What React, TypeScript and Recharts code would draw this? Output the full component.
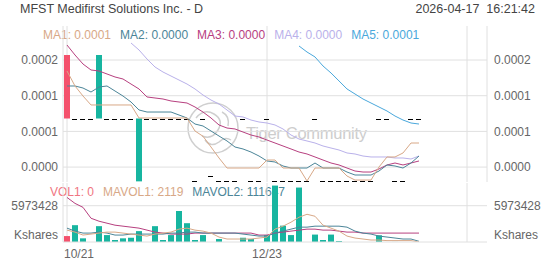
import React from 'react';
import { ComposedChart, Bar, Line, XAxis, YAxis, CartesianGrid, Cell } from 'recharts';

// ---------- data (prices in millionths of a dollar) ----------
const TITLE = 'MFST Medifirst Solutions Inc. - D';
const TIMESTAMP = '2026-04-17  16:21:42';
const SLOT_COUNT = 53;
const X_TICKS = [0, 25, 50];
const X_TICK_LABELS = ['10/21', '12/23', ''];
const PRICE_TICKS = [192.1, 135.9, 79.7, 23.5];
const VOL_TICK = 5973428;
const VOL_UNIT = 'Kshares';

const OPEN = [200, 100, 100, 100, 100, 100, 100, 100, 100, 1, 100, 100, 100, 100, 100, 100, 1, 100, 10, 1, 1, 1, 100, 1, 1, 100, 1, 1, 1, 1, 1, 100, 1, 1, 1, 1, 1, 1, 1, 100, 100, 1, 1, 100, 100];
const CLOSE = [100, 100, 100, 100, 200, 100, 100, 100, 100, 100, 100, 100, 100, 100, 100, 100, 1, 100, 10, 1, 1, 1, 100, 1, 1, 100, 1, 1, 1, 1, 1, 100, 1, 1, 1, 1, 1, 1, 1, 100, 100, 1, 1, 100, 100];

const MA1 = [174.8, 151.2, 135.4, 121.3, 121.3, 121.3, 121.3, 121.3, 121.3, 100.8, 100.8, 100.8, 100.8, 100.8, 100.8, 100.8, 80.3, 72.0, 55.1, 37.8, 22.0, 22.0, 22.0, 22.0, 22.0, 34.6, 34.6, 22.0, 22.0, 22.0, 1.6, 22.0, 22.0, 22.0, 22.0, 9.4, 3.1, 3.1, 3.1, 23.6, 39.4, 39.4, 45.7, 61.4, 61.4];
const MA2 = [151.2, 151.2, 148.0, 141.7, 149.6, 151.2, 143.3, 135.4, 126.0, 113.4, 110.2, 110.2, 110.2, 110.2, 105.5, 100.8, 91.3, 88.2, 80.3, 72.4, 64.6, 55.1, 52.0, 47.2, 40.9, 33.1, 31.5, 25.2, 22.0, 22.0, 22.0, 29.9, 22.0, 22.0, 22.0, 15.7, 11.0, 11.0, 11.0, 17.3, 26.8, 25.2, 22.0, 29.9, 40.9];
const MA3 = [215.7, 200.0, 185.8, 176.4, 174.8, 170.1, 165.4, 162.2, 154.3, 146.5, 133.9, 132.3, 130.7, 127.6, 126.0, 124.4, 118.1, 110.2, 100.8, 89.8, 85.0, 83.5, 78.7, 74.0, 70.9, 66.1, 61.4, 56.7, 52.0, 47.2, 44.1, 39.4, 34.6, 29.9, 26.8, 22.0, 17.3, 15.7, 15.7, 20.5, 26.8, 29.9, 26.8, 29.9, 33.1];
const MA4 = [null, null, null, null, null, null, null, null, 218.9, 207.9, 193.7, 181.1, 173.2, 166.9, 160.6, 154.3, 146.5, 137.0, 129.1, 122.8, 113.4, 103.9, 102.4, 97.6, 94.5, 92.9, 89.8, 83.5, 74.0, 67.7, 64.6, 61.4, 56.7, 53.5, 50.4, 45.7, 44.1, 40.9, 39.4, 39.4, 39.4, 37.8, 37.8, 36.2, 40.9];
const MA5 = [null, null, null, null, null, null, null, null, null, null, null, null, null, null, null, null, null, null, null, null, null, null, null, null, null, null, null, null, null, 214.2, 204.7, 196.9, 182.7, 171.7, 159.1, 146.5, 138.6, 130.7, 124.4, 118.1, 111.8, 103.9, 97.6, 92.9, 91.3];

const VOLUME = [977000, 2769000, 603000, 0, 2607000, 1140000, 326000, 603000, 700000, 1792000, 0, 2607000, 326000, 1140000, 5099000, 3095000, 326000, 1140000, 0, 489000, 0, 0, 700000, 489000, 0, 1140000, 9286000, 2688000, 1140000, 8960000, 0, 1222000, 326000, 1222000, 163000, 0, 0, 0, 0, 1105875, 0, 10595, 0, 0, 0];
const MAVOL1 = [1955000, 1629000, 1140000, 1303000, 1466000, 1629000, 1629000, 1466000, 1303000, 1140000, 977000, 1303000, 1466000, 1629000, 2118000, 2281000, 1955000, 1792000, 1466000, 815000, 489000, 489000, 489000, 489000, 652000, 815000, 2118000, 2607000, 3258000, 4073000, 4562000, 4236000, 2769000, 2281000, 1792000, 977000, 652000, 489000, 326000, 326000, 228000, 228000, 228000, 228000, 2119];
const MAVOL2 = [2281000, 1792000, 1466000, 1466000, 1629000, 1466000, 1140000, 1140000, 1303000, 1303000, 1303000, 1303000, 1303000, 1466000, 1466000, 1629000, 1629000, 1466000, 1466000, 1466000, 1466000, 1466000, 1303000, 1140000, 977000, 977000, 1466000, 1792000, 2118000, 2444000, 2444000, 2607000, 2607000, 2607000, 2607000, 2444000, 1792000, 1466000, 1303000, 977000, 815000, 652000, 489000, 489000, 111647];
const MAVOL3 = [7331000, 6354000, 5702000, 3910000, 3421000, 3095000, 2769000, 2607000, 2444000, 2281000, 1955000, 1629000, 1466000, 1303000, 1303000, 1303000, 1466000, 1466000, 1466000, 1466000, 1466000, 1466000, 1466000, 1466000, 1140000, 1140000, 1466000, 1629000, 1792000, 1955000, 2118000, 2118000, 1955000, 1955000, 1792000, 1629000, 1629000, 1466000, 1466000, 1466000, 1466000, 1466000, 1466000, 1466000, 1466000];

// ---------- styling ----------
const RED = '#f4516c';
const TEAL = '#17b5a0';
const C_MA1 = '#d8a887';
const C_MA2 = '#4b8598';
const C_MA3 = '#b7407f';
const C_MA4 = '#b9b1ea';
const C_MA5 = '#4aa8dc';
const C_VOL1 = '#f07581';
const GRID = '#e0e0e0';
const AXIS_TEXT = '#666';
const FONT = '"Liberation Sans", Arial, sans-serif';

const W = 552;
const PRICE_H = 185;
const PRICE_TOP = 26;
const PRICE_BOTTOM_MARGIN = 3;
const PRICE_PLOT_H = PRICE_H - PRICE_TOP - PRICE_BOTTOM_MARGIN;
const PRICE_DOMAIN_MAX = 200 * PRICE_PLOT_H / 127;
const VOL_CHART_TOP = 183;
const VOL_H = 82;
const VOL_XAXIS_H = 23;
const VOL_PLOT_H = VOL_H - VOL_XAXIS_H;
const VOL_DOMAIN_MAX = VOL_TICK * VOL_PLOT_H / 36.3;

const data = Array.from({ length: SLOT_COUNT }, (_, i) => ({
  i,
  o: OPEN[i] ?? null,
  c: CLOSE[i] ?? null,
  ma1: MA1[i] ?? null,
  ma2: MA2[i] ?? null,
  ma3: MA3[i] ?? null,
  ma4: MA4[i] ?? null,
  ma5: MA5[i] ?? null,
  vol: VOLUME[i] ?? null,
  mv1: MAVOL1[i] ?? null,
  mv2: MAVOL2[i] ?? null,
  mv3: MAVOL3[i] ?? null,
}));

const candleRange = (d: any) => (d.o == null ? null : [Math.min(d.o, d.c), Math.max(d.o, d.c)]);

const CandleShape = (props: any) => {
  const { x, y, width, height, payload } = props;
  if (!payload || payload.o == null) return null;
  if (payload.c === payload.o) {
    const yy = Math.round(y) + 0.5;
    return <line x1={x} x2={x + width - 1} y1={yy} y2={yy} stroke="#000" strokeWidth={1} />;
  }
  return <rect x={x} y={y} width={width} height={Math.max(height, 1)} fill={payload.c > payload.o ? TEAL : RED} />;
};

const XTick = (props: any) => {
  const { x, y, payload } = props;
  const idx = X_TICKS.indexOf(payload.value);
  const label = idx >= 0 ? X_TICK_LABELS[idx] : '';
  const first = idx === 0;
  return (
    <text x={first ? x - 3 : x} y={y + 14} textAnchor={first ? 'start' : 'middle'} fill={AXIS_TEXT} fontSize={12} fontFamily={FONT}>
      {label}
    </text>
  );
};

const EmptyTick = () => <g />;

const fmtPrice = (v: number) => (v / 1e6).toFixed(4);
const last = (arr: any[]) => arr[arr.length - 1];

const UnitLabel = (side: 'left' | 'right') => (p: any) => {
  const vb = p.viewBox || {};
  const x = side === 'left' ? vb.x + vb.width - 5 : vb.x + 7;
  return (
    <text x={x} y={vb.y + vb.height - 7} dy="0.355em" textAnchor={side === 'left' ? 'end' : 'start'} fill={AXIS_TEXT} fontSize={12} fontFamily={FONT}>
      {VOL_UNIT}
    </text>
  );
};

export default function App() {
  const maLegend = [
    { name: 'MA1', v: last(MA1), c: C_MA1 },
    { name: 'MA2', v: last(MA2), c: C_MA2 },
    { name: 'MA3', v: last(MA3), c: C_MA3 },
    { name: 'MA4', v: last(MA4), c: C_MA4 },
    { name: 'MA5', v: last(MA5), c: C_MA5 },
  ];
  const volLegend = [
    { name: 'VOL1', v: String(last(VOLUME)), c: C_VOL1 },
    { name: 'MAVOL1', v: String(last(MAVOL1)), c: C_MA1 },
    { name: 'MAVOL2', v: String(last(MAVOL2)), c: C_MA2 },
  ];
  return (
    <div style={{ position: 'absolute', left: 0, top: 0, width: W, height: 265, background: '#fff', fontFamily: FONT, overflow: 'hidden' }}>
      {/* header */}
      <div style={{ position: 'absolute', left: 20, top: 2, fontSize: 12.5, color: '#444' }}>{TITLE}</div>
      <div style={{ position: 'absolute', right: 17, top: 2, fontSize: 12.5, color: '#444', whiteSpace: 'pre' }}>{TIMESTAMP}</div>
      {/* watermark */}
      <svg width={W} height={265} style={{ position: 'absolute', left: 0, top: 0 }}>
        <g fill="none" stroke="#cfcfcf" strokeWidth={1.5}>
          <circle cx={213} cy={128} r={25} />
          <path d="M196 118 q8 -10 18 -4 q10 6 4 16 q-6 10 -16 6" />
          <path d="M205 140 q6 8 14 2 q6 -6 12 -2" />
          <path d="M222 112 q8 4 6 14" />
        </g>
        <text x={246} y={139} fontSize={16.5} fill="#cdcdcd" fontFamily={FONT} textLength={121}>Tiger Community</text>
      </svg>
      {/* MA legend */}
      <div style={{ position: 'absolute', left: 43, top: 28, display: 'flex', gap: 9, fontSize: 12, whiteSpace: 'pre' }}>
        {maLegend.map((m) => (
          <span key={m.name} style={{ color: m.c }}>{`${m.name}: ${fmtPrice(m.v)}`}</span>
        ))}
      </div>
      {/* volume legend */}
      <div style={{ position: 'absolute', left: 50, top: 185, display: 'flex', gap: 9, fontSize: 12, whiteSpace: 'pre' }}>
        {volLegend.map((m) => (
          <span key={m.name} style={{ color: m.c }}>{`${m.name}: ${m.v}`}</span>
        ))}
      </div>
      {/* price panel */}
      <div style={{ position: 'absolute', left: 0, top: 0 }}>
        <ComposedChart width={W} height={PRICE_H} data={data} margin={{ top: PRICE_TOP, right: 0, bottom: PRICE_BOTTOM_MARGIN, left: 0 }}>
          <CartesianGrid stroke={GRID} yAxisId="pl" syncWithTicks />
          <XAxis dataKey="i" type="category" ticks={X_TICKS} interval={0} height={0} tick={<EmptyTick />} tickSize={0} tickLine={false} axisLine={false} />
          <YAxis yAxisId="pl" orientation="left" width={63} type="number" domain={[0, PRICE_DOMAIN_MAX]} allowDataOverflow ticks={PRICE_TICKS} interval={0} tickFormatter={fmtPrice} tickSize={0} tickMargin={5} axisLine={{ stroke: GRID }} tick={{ fill: AXIS_TEXT, fontSize: 12 }} />
          <YAxis yAxisId="pr" orientation="right" width={65} type="number" domain={[0, PRICE_DOMAIN_MAX]} allowDataOverflow ticks={PRICE_TICKS} interval={0} tickFormatter={fmtPrice} tickSize={0} tickMargin={7} axisLine={{ stroke: GRID }} tick={{ fill: AXIS_TEXT, fontSize: 12 }} />
          <Bar yAxisId="pl" dataKey={candleRange} barSize={6} shape={<CandleShape />} isAnimationActive={false} />
          <Line yAxisId="pl" dataKey="ma4" stroke={C_MA4} strokeWidth={1} dot={false} isAnimationActive={false} />
          <Line yAxisId="pl" dataKey="ma5" stroke={C_MA5} strokeWidth={1} dot={false} isAnimationActive={false} />
          <Line yAxisId="pl" dataKey="ma3" stroke={C_MA3} strokeWidth={1} dot={false} isAnimationActive={false} />
          <Line yAxisId="pl" dataKey="ma2" stroke={C_MA2} strokeWidth={1} dot={false} isAnimationActive={false} />
          <Line yAxisId="pl" dataKey="ma1" stroke={C_MA1} strokeWidth={1} dot={false} isAnimationActive={false} />
        </ComposedChart>
      </div>
      {/* volume panel */}
      <div style={{ position: 'absolute', left: 0, top: VOL_CHART_TOP }}>
        <ComposedChart width={W} height={VOL_H} data={data} margin={{ top: 0, right: 0, bottom: 0, left: 0 }}>
          <CartesianGrid stroke={GRID} yAxisId="vl" syncWithTicks />
          <XAxis dataKey="i" type="category" ticks={X_TICKS} interval={0} height={VOL_XAXIS_H} tick={<XTick />} tickSize={0} tickLine={false} axisLine={{ stroke: GRID }} />
          <YAxis yAxisId="vl" orientation="left" width={63} type="number" domain={[0, VOL_DOMAIN_MAX]} allowDataOverflow ticks={[VOL_TICK]} interval={0} tickSize={0} tickMargin={5} axisLine={{ stroke: GRID }} tick={{ fill: AXIS_TEXT, fontSize: 12 }} label={UnitLabel('left')} />
          <YAxis yAxisId="vr" orientation="right" width={65} type="number" domain={[0, VOL_DOMAIN_MAX]} allowDataOverflow ticks={[VOL_TICK]} interval={0} tickSize={0} tickMargin={7} axisLine={false} tick={{ fill: AXIS_TEXT, fontSize: 12 }} label={UnitLabel('right')} />
          <Bar yAxisId="vl" dataKey="vol" barSize={6} isAnimationActive={false}>
            {data.map((d) => (
              <Cell key={d.i} fill={d.o != null && d.c < d.o ? RED : TEAL} />
            ))}
          </Bar>
          <Line yAxisId="vl" dataKey="mv3" stroke={C_MA3} strokeWidth={1} dot={false} isAnimationActive={false} />
          <Line yAxisId="vl" dataKey="mv2" stroke={C_MA2} strokeWidth={1} dot={false} isAnimationActive={false} />
          <Line yAxisId="vl" dataKey="mv1" stroke={C_MA1} strokeWidth={1} dot={false} isAnimationActive={false} />
        </ComposedChart>
      </div>
    </div>
  );
}
